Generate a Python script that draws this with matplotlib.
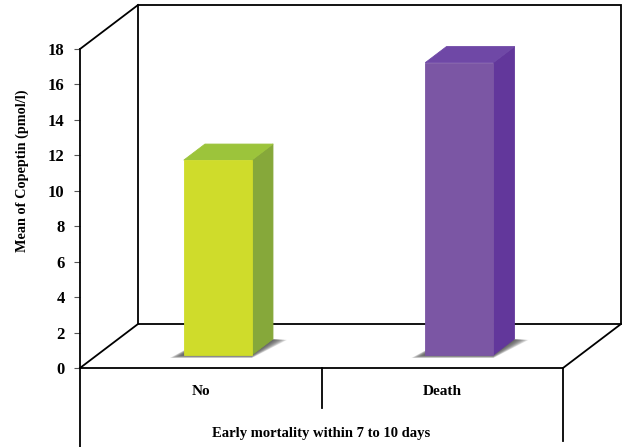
import matplotlib
matplotlib.use("Agg")
import matplotlib.pyplot as plt
from matplotlib.patches import Polygon
import matplotlib.transforms as mtransforms

# Data
categories = ["No", "Death"]
mean_copeptin = [11.0, 16.5]
yticks = list(range(0, 19, 2))
ylabel = "Mean of Copeptin (pmol/l)"
xlabel = "Early mortality within 7 to 10 days"

front_colors = ["#cfdc2b", "#7b56a4"]
side_colors = ["#86a83a", "#62379b"]
top_colors = ["#9cc43b", "#6f48a6"]

W, H, DPI = 622, 447, 100
fig = plt.figure(figsize=(W / DPI, H / DPI), dpi=DPI)
fig.patch.set_facecolor("white")

# front plane of the box
left_px, right_px, bottom_px, top_px = 80, 563, 368, 49
ax = fig.add_axes([left_px / W, 1 - bottom_px / H,
                   (right_px - left_px) / W, (bottom_px - top_px) / H])
ax.set_xlim(0, len(categories))
ax.set_ylim(0, 18)
ax.set_facecolor("none")

# depth of the box (pixels) converted into data units
depth_px = (58, 44)
x_per_px = len(categories) / (right_px - left_px)
y_per_px = 18 / (bottom_px - top_px)
DX = depth_px[0] * x_per_px
DY = depth_px[1] * y_per_px

serif = "Liberation Serif"
lw = 1.3
n = len(categories)

# back wall and floor
back = Polygon([(DX, DY), (n + DX, DY), (n + DX, 18 + DY), (DX, 18 + DY)],
               closed=True, facecolor="white", edgecolor="black", lw=lw,
               clip_on=False, zorder=0)
ax.add_patch(back)
for (x0, y0) in [(0, 0), (0, 18), (n, 0)]:
    ax.plot([x0, x0 + DX], [y0, y0 + DY], color="black", lw=lw,
            clip_on=False, zorder=1, solid_capstyle="projecting")

# bars drawn as boxes standing on the floor
f0 = 13 / 44        # depth of the front face
fd = 16 / 44        # bar depth
bw = 68 * x_per_px  # bar width
bdx, bdy = fd * DX, fd * DY
sx, sy = 14 * x_per_px, 3 * y_per_px

for i, v in enumerate(mean_copeptin):
    xc = i + 0.5 + f0 * DX
    b = f0 * DY
    xl, xr = xc - bw / 2, xc + bw / 2
    # soft shadow on the floor
    layers = 10
    for k in range(layers):
        t = 1 - k / layers
        ax.add_patch(Polygon(
            [(xl - sx * t, b - sy * t), (xr, b - sy * t),
             (xr + bdx + sx * t, b + bdy - sy * 0.3 * t), (xl + bdx, b + bdy)],
            closed=True, facecolor="#4a4a4a", edgecolor="none",
            alpha=0.16, clip_on=False, zorder=2))
    # front face
    ax.bar([xc], [v], width=bw, bottom=b, color=front_colors[i],
           edgecolor=front_colors[i], lw=0.6, zorder=4, clip_on=False)
    # side face
    ax.add_patch(Polygon([(xr, b), (xr + bdx, b + bdy), (xr + bdx, b + v + bdy),
                          (xr, b + v)], closed=True, facecolor=side_colors[i],
                         edgecolor=side_colors[i], lw=0.6, joinstyle="round",
                         clip_on=False, zorder=3))
    # top face
    ax.add_patch(Polygon([(xl, b + v), (xr, b + v), (xr + bdx, b + v + bdy),
                          (xl + bdx, b + v + bdy)], closed=True,
                         facecolor=top_colors[i], edgecolor=top_colors[i],
                         lw=0.6, joinstyle="round", clip_on=False, zorder=3))

# spines: front vertical axis and front floor edge
for s in ["top", "right"]:
    ax.spines[s].set_visible(False)
for s in ["left", "bottom"]:
    ax.spines[s].set_linewidth(lw)
    ax.spines[s].set_zorder(5)

ax.set_yticks(yticks)
ax.set_yticklabels([str(t) for t in yticks], fontfamily=serif,
                   fontweight="bold", fontsize=12)
ax.tick_params(axis="y", length=4, width=0.8, color="#555555", pad=7)

# category labels and separators below the floor
ax.set_xticks([i + 0.5 for i in range(n)])
ax.set_xticklabels(categories, fontfamily=serif, fontweight="bold", fontsize=11)
ax.tick_params(axis="x", length=0, pad=12)

trans = mtransforms.blended_transform_factory(ax.transData, ax.transAxes)
ax.plot([0, 0], [0, -(H - bottom_px) / (bottom_px - top_px)], color="black",
        lw=lw, transform=trans, clip_on=False)
ax.plot([n, n], [0, -(441 - bottom_px) / (bottom_px - top_px)], color="black",
        lw=lw, transform=trans, clip_on=False)
for i in range(1, n):
    ax.plot([i, i], [0, -(408 - bottom_px) / (bottom_px - top_px)],
            color="black", lw=lw, transform=trans, clip_on=False)

fig.text((left_px + right_px) / 2 / W, 1 - 433 / H, xlabel, fontfamily=serif,
         fontweight="bold", fontsize=10.5, ha="center", va="center")
fig.text(22 / W, 1 - 171 / H, ylabel, fontfamily=serif, fontweight="bold",
         fontsize=10.3, rotation=90, ha="center", va="center")

fig.savefig("out.png", dpi=DPI, facecolor="white")
